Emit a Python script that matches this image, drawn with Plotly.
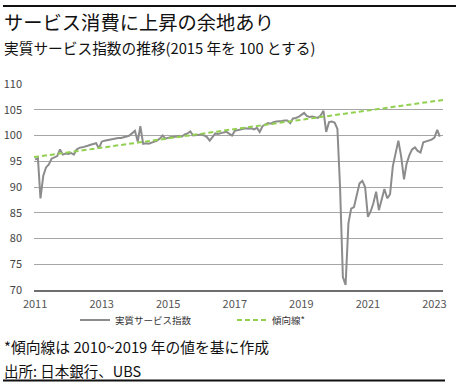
import pandas as pd
import plotly.graph_objects as go

# --- data ---
v2011 = [95.3, 95.6, 87.8, 92.2, 93.8, 94.4, 95.5, 95.8, 96.0, 97.3, 96.3, 96.5]
v2012 = [96.4, 96.6, 96.3, 97.3, 97.6, 97.7, 97.8, 98.0, 98.2, 98.3, 98.5, 97.5]
v2013 = [98.8, 99.0, 99.1, 99.2, 99.3, 99.4, 99.5, 99.5, 99.6, 99.8, 100.0, 100.5]
v2014 = [100.9, 98.8, 101.8, 98.4, 98.5, 98.4, 98.6, 98.7, 99.0, 99.4, 100.0, 99.4]
v2015 = [99.6, 99.7, 99.7, 99.8, 99.9, 99.8, 100.2, 100.4, 100.8, 100.0, 100.1, 100.2]
v2016 = [100.2, 100.0, 99.7, 99.0, 99.8, 100.4, 100.3, 100.5, 100.6, 100.7, 100.4, 100.0]
v2017 = [100.9, 101.0, 101.1, 101.2, 101.4, 101.3, 101.4, 101.2, 101.5, 100.7, 101.8, 102.1]
v2018 = [102.4, 102.3, 102.6, 102.7, 102.7, 102.8, 102.9, 102.9, 102.4, 103.3, 103.4, 103.6]
v2019 = [104.0, 104.4, 103.8, 103.6, 103.7, 103.5, 103.4, 103.9, 104.8, 100.7, 102.6, 102.7]
v2020 = [102.5, 101.3, 90.0, 72.5, 71.0, 83.0, 85.8, 86.1, 88.8, 90.7, 91.2, 90.0]
v2021 = [84.2, 85.3, 86.8, 89.1, 85.5, 87.5, 89.6, 87.8, 88.6, 94.0, 96.5, 99.0]
v2022 = [95.9, 91.5, 94.5, 96.2, 97.3, 97.7, 97.0, 96.7, 98.7, 98.9, 99.0, 99.2]
v2023 = [99.6, 101.1, 99.8]

series_values = (v2011 + v2012 + v2013 + v2014 + v2015 + v2016 + v2017 +
                 v2018 + v2019 + v2020 + v2021 + v2022 + v2023)
months = pd.date_range("2011-01-01", periods=len(series_values), freq="MS")

trend_dates = ["2010-12-20", "2023-04-05"]
trend_values = [95.8, 106.9]

tick_years = ["2011", "2013", "2015", "2017", "2019", "2021", "2023"]
y_ticks = [70, 75, 80, 85, 90, 95, 100, 105, 110]

series_name = "実質サービス指数"
trend_name = "傾向線*"
title_text = "サービス消費に上昇の余地あり"
subtitle_text = "実質サービス指数の推移(2015 年を 100 とする)"
note_text = "*傾向線は 2010~2019 年の値を基に作成"
source_text = "出所: 日本銀行、UBS"

FONT = "Noto Sans CJK JP, Noto Sans, sans-serif"

fig = go.Figure()
fig.add_trace(go.Scatter(x=months, y=series_values, mode="lines", name=series_name,
                         line=dict(color="#8c8c8c", width=2)))
fig.add_trace(go.Scatter(x=trend_dates, y=trend_values, mode="lines", name=trend_name,
                         line=dict(color="#92d050", width=2, dash="5px,3px")))

W, H = 456, 385
L, R, T, B = 34, 13, 84, 95
pw, ph = W - L - R, H - T - B

def px_x(p):
    return (p - L) / pw

def px_y(p):
    return (H - B - p) / ph

fig.update_layout(
    width=W, height=H,
    margin=dict(l=L, r=R, t=T, b=B, pad=0, autoexpand=False),
    paper_bgcolor="white", plot_bgcolor="white",
    font=dict(family=FONT, color="#222222"),
    showlegend=True,
    legend=dict(orientation="h", x=px_x(75), xanchor="left", y=px_y(320), yanchor="middle",
                font=dict(size=9.5, color="#333333"), itemwidth=30,
                entrywidth=112, entrywidthmode="pixels", bgcolor="rgba(0,0,0,0)"),
    xaxis=dict(type="date", range=["2010-12-20", "2023-04-05"], automargin=False,
               tickvals=[y + "-01-01" for y in tick_years], ticktext=tick_years,
               showgrid=False, zeroline=False, showline=True, linecolor="#6e6e6e", linewidth=2,
               ticks="", tickfont=dict(size=11, color="#555555"), ticklabelstandoff=3),
    yaxis=dict(range=[70, 110], tickvals=y_ticks, showgrid=True, gridcolor="#a6a6a6",
               automargin=False,
               gridwidth=1, zeroline=False, showline=False, ticks="",
               tickfont=dict(size=11, color="#444444"), ticklabelstandoff=11),
)

annos = [
    dict(text=title_text, x=px_x(2), y=px_y(22), font=dict(size=19.3, color="#111111")),
    dict(text=subtitle_text, x=px_x(2), y=px_y(47.5), font=dict(size=14.7, color="#111111")),
    dict(text=note_text, x=px_x(2), y=px_y(346.5), font=dict(size=14.8, color="#111111")),
    dict(text=source_text, x=px_x(2), y=px_y(370.5), font=dict(size=14.5, color="#111111")),
]
for a in annos:
    fig.add_annotation(xref="paper", yref="paper", xanchor="left", yanchor="middle",
                       showarrow=False, **a)

fig.add_shape(type="line", xref="paper", yref="paper", x0=px_x(3), x1=px_x(456),
              y0=px_y(6), y1=px_y(6), line=dict(color="#111111", width=2))
fig.add_shape(type="line", xref="paper", yref="paper", x0=px_x(3), x1=px_x(445),
              y0=px_y(380.5), y1=px_y(380.5), line=dict(color="#111111", width=2))

fig.write_html("out.html", config={"displayModeBar": False},
               post_script="document.body.style.margin='0';")
